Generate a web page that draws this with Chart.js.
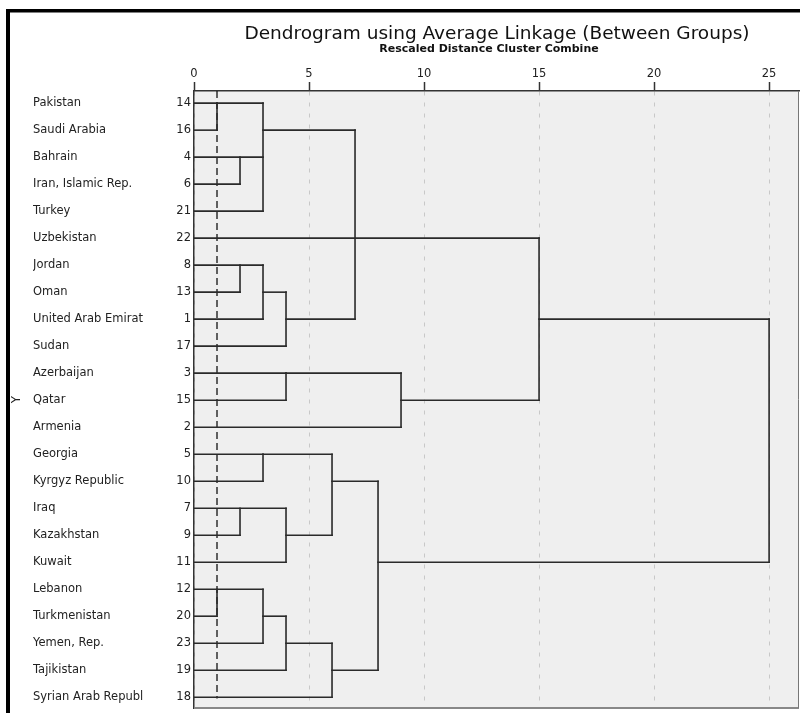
<!DOCTYPE html>
<html>
<head>
<meta charset="utf-8">
<title>Dendrogram</title>
<script src="https://cdn.jsdelivr.net/npm/chart.js@4.4.0/dist/chart.umd.min.js"></script>
<style>
  html, body { margin: 0; padding: 0; background: #fff; }
  #wrap { position: relative; width: 800px; height: 713px; }
</style>
</head>
<body>
<div id="wrap"><canvas id="dendro" width="800" height="713"></canvas></div>
<script>
    "use strict";

    // Cases, top to bottom
    const countries = ["Pakistan", "Saudi Arabia", "Bahrain", "Iran, Islamic Rep.", "Turkey", "Uzbekistan",
        "Jordan", "Oman", "United Arab Emirat", "Sudan", "Azerbaijan", "Qatar", "Armenia", "Georgia",
        "Kyrgyz Republic", "Iraq", "Kazakhstan", "Kuwait", "Lebanon", "Turkmenistan", "Yemen, Rep.",
        "Tajikistan", "Syrian Arab Republ"];
    const caseIds = [14, 16, 4, 6, 21, 22, 8, 13, 1, 17, 3, 15, 2, 5, 10, 7, 9, 11, 12, 20, 23, 19, 18];

    // distance where each leaf line ends
    const leafDist = [3, 1, 3, 2, 3, 15, 3, 2, 3, 4, 4, 4, 9, 3, 3, 4, 2, 4, 3, 1, 3, 4, 6];

    // horizontal links between merges (row, from, to)
    const linkRow  = [1, 7, 8, 8, 10, 11, 13, 14, 16, 17, 19, 20, 21];
    const linkFrom = [3, 3, 4, 15, 4, 9, 3, 6, 4, 8, 3, 4, 6];
    const linkTo   = [7, 4, 7, 25, 9, 15, 6, 8, 6, 25, 4, 6, 8];

    // vertical joins (distance, first row, last row)
    const joinDist   = [1, 2, 3, 7, 2, 3, 4, 15, 4, 9, 25, 3, 6, 2, 4, 8, 1, 3, 4, 6];
    const joinTop    = [0, 2, 0, 1, 6, 6, 7, 5, 10, 10, 8, 13, 13, 15, 15, 14, 18, 18, 19, 20];
    const joinBottom = [1, 3, 4, 8, 7, 8, 9, 11, 11, 12, 17, 14, 16, 16, 17, 21, 19, 20, 21, 22];

    const xTicks = [0, 5, 10, 15, 20, 25];
    const cutDist = 1;

    const yMin = -0.45, yMax = 22.4;
    const rows = countries.map((c, i) => i);

    const FONT = '"DejaVu Sans", Verdana, sans-serif';
    const labelFont = { family: FONT, size: 11.5 };

    // Segments
    var segs = [];
    leafDist.forEach(function (d, r) { segs.push([[0, r], [d, r]]); });
    linkRow.forEach(function (r, i) { segs.push([[linkFrom[i], r], [linkTo[i], r]]); });
    joinDist.forEach(function (d, i) { segs.push([[d, joinTop[i]], [d, joinBottom[i]]]); });

    var datasets = segs.map(function (s) {
        return {
            data: s.map(function (p) { return { x: p[0], y: p[1] }; }),
            showLine: true,
            borderColor: '#2a2a2a',
            borderWidth: 1.6,
            borderCapStyle: 'square',
            pointRadius: 0,
            fill: false
        };
    });
    datasets.push({
        data: [{ x: cutDist, y: yMin }, { x: cutDist, y: rows.length - 1 + 0.05 }],
        showLine: true,
        borderColor: '#111',
        borderWidth: 1.3,
        borderDash: [7, 4],
        pointRadius: 0,
        fill: false
    });

    // background, frame and titles
    var framePlugin = {
        id: 'frame',
        beforeDraw: function (chart) {
            var ctx = chart.ctx, a = chart.chartArea;
            ctx.save();
            ctx.fillStyle = '#fff';
            ctx.fillRect(0, 0, chart.width, chart.height);
            ctx.fillStyle = '#efefef';
            ctx.fillRect(a.left, a.top, a.right - a.left, a.bottom - a.top);
            ctx.restore();
        },
        afterDraw: function (chart) {
            var ctx = chart.ctx, a = chart.chartArea;
            ctx.save();
            // plot border right / bottom
            ctx.strokeStyle = '#888';
            ctx.lineWidth = 2;
            ctx.beginPath();
            ctx.moveTo(a.left, a.bottom);
            ctx.lineTo(a.right, a.bottom);
            ctx.stroke();
            ctx.lineWidth = 1;
            ctx.strokeStyle = '#777';
            ctx.beginPath();
            ctx.moveTo(a.right - 0.5, a.top);
            ctx.lineTo(a.right - 0.5, a.bottom);
            ctx.stroke();

            // outer black frame
            ctx.fillStyle = '#000';
            ctx.fillRect(6, 9, chart.width - 6, 3.5);
            ctx.fillRect(6, 9, 4, chart.height - 9);

            // titles
            var cx = 497;
            ctx.fillStyle = '#111';
            ctx.textAlign = 'center';
            ctx.textBaseline = 'alphabetic';
            ctx.font = '18.5px ' + FONT;
            ctx.fillText('Dendrogram using Average Linkage (Between Groups)', cx, 39);
            ctx.font = 'bold 11px ' + FONT;
            ctx.fillText('Rescaled Distance Cluster Combine', cx - 8, 52);
            ctx.restore();
        }
    };

    var rowTicks = function (s) { s.ticks = rows.map(function (v) { return { value: v }; }); };
    // keep the label overhang from shrinking the plot area
    var noPad = function (s) { s.paddingTop = 0; s.paddingBottom = 0; s.paddingLeft = 0; s.paddingRight = 0; };

    new Chart(document.getElementById('dendro'), {
        type: 'scatter',
        data: { datasets: datasets },
        plugins: [framePlugin],
        options: {
            responsive: false,
            animation: false,
            devicePixelRatio: 1,
            layout: { padding: { left: 6, right: 1, top: 0, bottom: 5 } },
            plugins: {
                legend: { display: false },
                tooltip: { enabled: false },
                title: { display: false }
            },
            scales: {
                x: {
                    type: 'linear',
                    position: 'top',
                    min: 0,
                    max: 26.3,
                    afterBuildTicks: function (s) { s.ticks = xTicks.map(function (v) { return { value: v }; }); },
                    afterFit: function (s) { s.height = 91; noPad(s); },
                    ticks: { font: labelFont, color: '#222', padding: 1, maxRotation: 0 },
                    grid: { color: '#c8c8c8', lineWidth: 1, drawTicks: true, tickLength: 9, tickColor: '#333', tickWidth: 1.5 },
                    border: { color: '#333', width: 1.5, dash: [4, 7] }
                },
                // case numbers, next to the plot
                y: {
                    type: 'linear',
                    position: 'left',
                    weight: 0,
                    reverse: true,
                    min: yMin,
                    max: yMax,
                    afterBuildTicks: rowTicks,
                    afterFit: function (s) { s.width = 40; noPad(s); },
                    ticks: {
                        autoSkip: false,
                        font: labelFont,
                        color: '#222',
                        padding: 3,
                        callback: function (v) { return caseIds[v]; }
                    },
                    grid: { display: false, drawTicks: false },
                    border: { display: true, color: '#333', width: 1.5 }
                },
                // country names, left aligned
                names: {
                    type: 'linear',
                    position: 'left',
                    weight: 1,
                    reverse: true,
                    min: yMin,
                    max: yMax,
                    afterBuildTicks: rowTicks,
                    afterFit: function (s) { s.width = 121; noPad(s); },
                    ticks: {
                        autoSkip: false,
                        font: labelFont,
                        color: '#222',
                        crossAlign: 'far',
                        padding: 0,
                        callback: function (v) { return countries[v]; }
                    },
                    grid: { display: false, drawTicks: false },
                    border: { display: false }
                },
                // holds only the axis title
                ytitle: {
                    type: 'linear',
                    position: 'left',
                    weight: 2,
                    reverse: true,
                    min: yMin,
                    max: yMax,
                    afterFit: function (s) { s.width = 27; noPad(s); },
                    ticks: { display: false },
                    title: {
                        display: true,
                        text: 'Y',
                        font: { family: FONT, size: 12 },
                        color: '#222',
                        padding: { top: 4, bottom: 4 }
                    },
                    grid: { display: false, drawTicks: false },
                    border: { display: false }
                }
            }
        }
    });
</script>
</body>
</html>
